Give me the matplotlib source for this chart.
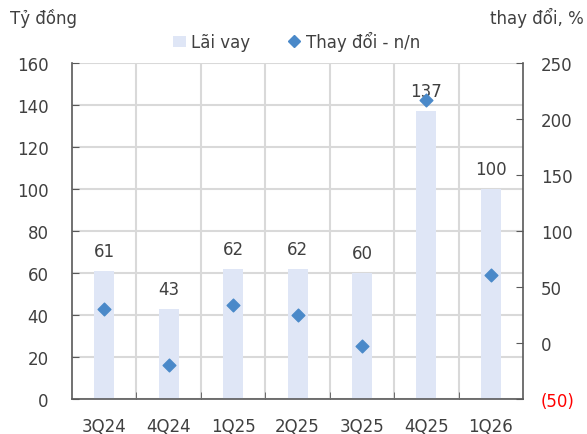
import matplotlib
matplotlib.use("Agg")
import matplotlib.pyplot as plt
from matplotlib.lines import Line2D
from matplotlib.patches import Patch

quarters = ["3Q24", "4Q24", "1Q25", "2Q25", "3Q25", "4Q25", "1Q26"]
interest = [61, 43, 62, 62, 60, 137, 100]
yoy_change = [30, -20, 34, 25, -3, 217, 61]
left_ticks = [0, 20, 40, 60, 80, 100, 120, 140, 160]
right_ticks = [-50, 0, 50, 100, 150, 200, 250]
right_labels = ["(50)", "0", "50", "100", "150", "200", "250"]

bar_color = "#dfe6f6"
dot_color = "#4a89c9"
text_color = "#404040"
grid_color = "#d9d9d9"
spine_color = "#595959"
fs = 12

plt.rcParams["font.family"] = ["DejaVu Sans"]

fig = plt.figure(figsize=(5.87, 4.35), dpi=100)
ax = fig.add_axes([0.1227, 0.0805, 0.891 - 0.1227, 0.853 - 0.0805])
ax2 = ax.twinx()

x = list(range(len(quarters)))
ax.bar(x, interest, width=0.31, color=bar_color, zorder=2)
for xi, v in zip(x, interest):
    ax.annotate(str(v), (xi, v), xytext=(0, 8), textcoords="offset points",
                ha="center", va="bottom", fontsize=fs, color=text_color)

ax.set_xlim(-0.5, len(quarters) - 0.5)
ax.set_ylim(0, 160)
ax.set_yticks(left_ticks)
ax.set_xticks(x)
ax.set_xticklabels(quarters)
ax.set_xticks([i + 0.5 for i in range(len(quarters) - 1)], minor=True)
ax.tick_params(axis="x", which="major", length=0, pad=13, labelsize=fs, labelcolor=text_color)
ax.tick_params(axis="x", which="minor", direction="in", length=5, color=spine_color)
ax.tick_params(axis="y", direction="in", length=5, color=spine_color, labelsize=fs,
               labelcolor=text_color, pad=17)
ax.grid(axis="y", color=grid_color, lw=1.5, zorder=0)
ax.grid(axis="x", which="minor", color=grid_color, lw=1.5, zorder=0)
ax.set_axisbelow(True)

ax2.scatter(x, yoy_change, marker="D", s=42, color=dot_color, zorder=3)
ax2.set_ylim(-50, 250)
ax2.set_yticks(right_ticks)
ax2.set_yticklabels(right_labels)
ax2.tick_params(axis="y", direction="in", length=5, color=spine_color, labelsize=fs,
                labelcolor=text_color, pad=13)
ax2.get_yticklabels()[0].set_color("#ff0000")

for a in (ax, ax2):
    a.spines["top"].set_visible(False)
    for side in ("left", "right", "bottom"):
        a.spines[side].set_color(spine_color)
        a.spines[side].set_linewidth(1.2)
ax.spines["right"].set_visible(False)
ax2.spines["left"].set_visible(False)
ax2.spines["bottom"].set_visible(False)

fig.text(0.017, 0.958, "Tỷ đồng", fontsize=fs, color=text_color, va="center", ha="left")
fig.text(0.995, 0.958, "thay đổi, %", fontsize=fs, color=text_color, va="center", ha="right")

handles = [
    Patch(facecolor=bar_color, edgecolor="none"),
    Line2D([], [], marker="D", ls="none", color=dot_color, markersize=6),
]
fig.legend(handles, ["Lãi vay", "Thay đổi - n/n"], loc="center", bbox_to_anchor=(0.505, 0.903),
           ncol=2, frameon=False, fontsize=fs, handlelength=0.8, handletextpad=0.3,
           columnspacing=2.2, labelcolor=text_color)

fig.savefig("out.png", dpi=100)
